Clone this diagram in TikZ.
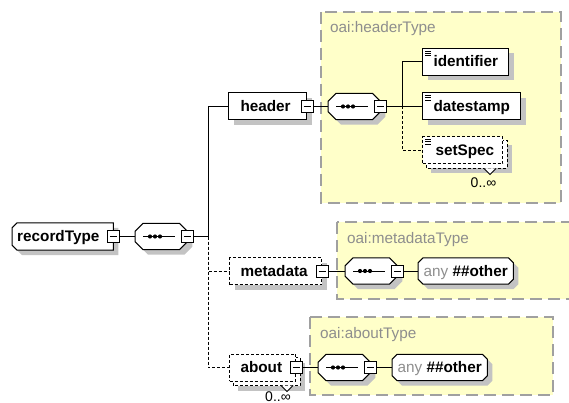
\documentclass[tikz,border=0pt]{standalone}
\usepackage{fontspec}
\setmainfont{Liberation Sans}
\usetikzlibrary{shadows}

\definecolor{panelfill}{HTML}{FFFFC9}
\definecolor{panelline}{HTML}{A0A0A0}
\definecolor{shadowgrey}{HTML}{C3C3C3}
\definecolor{typegrey}{HTML}{8E8E8E}

\pgfdeclarelayer{panel}
\pgfdeclarelayer{body}
\pgfsetlayers{panel,body,main}

\newcommand\elemfont{\bfseries\fontsize{15.3}{18}\selectfont}
\newcommand\typefont{\fontsize{15.3}{18}\selectfont}
\newcommand\occfont{\fontsize{14}{16}\selectfont}

% octagonal outline round a node: node name, chamfer, draw options
\newcommand\octoutline[3]{%
  \draw[#3] ([xshift=#2pt]#1.north west) -- ([xshift=-#2pt]#1.north east)
    -- ([yshift=-#2pt]#1.north east) -- ([yshift=#2pt]#1.south east)
    -- ([xshift=-#2pt]#1.south east) -- ([xshift=#2pt]#1.south west)
    -- ([yshift=#2pt]#1.south west) -- ([yshift=-#2pt]#1.north west) -- cycle;}
% outline with bevelled left corners (complex type box)
\newcommand\leftbevel[3]{%
  \draw[#3] ([xshift=#2pt]#1.north west) -- (#1.north east) -- (#1.south east)
    -- ([xshift=#2pt]#1.south west) -- ([yshift=#2pt]#1.south west)
    -- ([yshift=-#2pt]#1.north west) -- cycle;}
% sequence glyph inside a compositor
\newcommand\seqglyph[1]{%
  \draw[conn] ([xshift=8pt]#1.west) -- ([xshift=40pt]#1.west);
  \foreach \d in {15,20,25}{\fill ([xshift=\d pt]#1.west) circle (2.1pt);}}
% simple-content marker in the top left corner of an element
\newcommand\simpleicon[1]{%
  \draw[line width=0.8pt] ([shift={(3,3)}]#1.north west) -- ++(6,0)
    ([shift={(3,5.3)}]#1.north west) -- ++(6,0)
    ([shift={(3,7.6)}]#1.north west) -- ++(6,0);}

\tikzset{
  x=1pt, y=-1pt,
  conn/.style={draw=black, line width=1pt},
  dashline/.style={dash pattern=on 3pt off 2pt},
  boxshadow/.style={drop shadow={shadow xshift=5pt, shadow yshift=-5pt, fill=shadowgrey, opacity=1, draw=none}},
  elemtext/.style={anchor=west, minimum height=27pt, inner ysep=0pt, text height=12pt, text depth=2pt, align=left, font=\elemfont},
  elem/.style={elemtext, draw=black, line width=1pt, fill=white, boxshadow},
  optelem/.style={elem, dashline},
  optfront/.style={elemtext, draw=black, line width=1pt, fill=white, dashline},
  seqnode/.style={anchor=west, minimum width=52pt, minimum height=26pt, inner sep=0pt},
  anynode/.style={anchor=west, minimum width=95pt, minimum height=26pt, inner sep=0pt, text height=12pt, text depth=2pt, font=\elemfont},
  outline/.style={draw=black, line width=1pt, fill=white, boxshadow},
  minusbox/.style={draw=black, fill=white, line width=0.9pt, minimum size=12pt, inner sep=0pt,
    path picture={\draw[line width=0.9pt] ([xshift=2.5pt]path picture bounding box.west) -- ([xshift=-2.5pt]path picture bounding box.east);}},
  panel/.style={fill=panelfill, draw=panelline, line width=1.3pt, dash pattern=on 12pt off 6pt},
  paneltitle/.style={anchor=base west, inner sep=0pt, text=typegrey, font=\typefont},
  occurs/.style={anchor=base, inner sep=0pt, font=\occfont},
  caret/.style={draw=black, fill=white, line width=0.8pt},
}

\begin{document}
\begin{tikzpicture}
\useasboundingbox (0,0) rectangle (569,403);

% type panels
\begin{pgfonlayer}{panel}
  \path[panel] (321,12) rectangle (561,203);
  \path[panel] (337,222) rectangle (585,299);
  \path[panel] (310,317) rectangle (553,395);
\end{pgfonlayer}
\node[paneltitle] (tHead) at (330,33) {oai:headerType};
\node[paneltitle] (tMeta) at (347,243) {oai:metadataType};
\node[paneltitle] (tAbout) at (320,338) {oai:aboutType};

% root type
\node[elemtext, inner xsep=5pt, text width=91pt] (rec) at (12,236.5) {recordType};
\node[minusbox] (recM) at (rec.east) {};
\node[seqnode] (seqR) at (135,236.5) {};
\node[minusbox] (seqRM) at (seqR.east) {};
\coordinate (trunk) at (208,236.5);

% header branch
\node[elem, inner xsep=12pt, text width=54pt] (hdr) at (228,106.5) {header};
\node[minusbox] (hdrM) at (hdr.east) {};
\node[seqnode] (seqH) at (328,106.5) {};
\node[minusbox] (seqHM) at (seqH.east) {};
\coordinate (hub) at (402,106.5);
\node[elem, inner xsep=11pt, text width=64pt] (ident) at (422,62) {identifier};
\node[elem, inner xsep=11pt, text width=76pt] (dstamp) at (422,106.5) {datestamp};
\node[optfront, inner xsep=13pt, text width=54pt] (setspec) at (422,150.5) {setSpec};

% metadata branch
\node[optelem, inner xsep=11pt, text width=70pt] (meta) at (229,271) {metadata};
\node[minusbox] (metaM) at (meta.east) {};
\node[seqnode] (seqM) at (345,271) {};
\node[minusbox] (seqMM) at (seqM.east) {};
\node[anynode] (anyM) at (418,271) {{\mdseries\color{typegrey}any} \#\#other};

% about branch
\node[optfront, inner xsep=11pt, text width=44pt] (about) at (229,367.5) {about};
\node[minusbox] (aboutM) at (about.east) {};
\node[seqnode] (seqA) at (318,367.5) {};
\node[minusbox] (seqAM) at (seqA.east) {};
\node[anynode] (anyA) at (392,367.5) {{\mdseries\color{typegrey}any} \#\#other};

% shaped outlines and stacked copies of repeating elements
\begin{pgfonlayer}{body}
  \leftbevel{rec}{5}{outline}
  \foreach \s in {seqR,seqH,seqM,seqA}{\octoutline{\s}{8}{outline}}
  \octoutline{anyM}{5}{outline}
  \octoutline{anyA}{5}{outline}
  \draw[outline, dashline] ([shift={(4,4)}]setspec.north west) rectangle ([shift={(4,4)}]setspec.south east);
  \draw[outline, dashline] ([shift={(4,4)}]about.north west) rectangle ([shift={(4,4)}]about.south east);
\end{pgfonlayer}

\foreach \s in {seqR,seqH,seqM,seqA}{\seqglyph{\s}}
\simpleicon{ident}
\simpleicon{dstamp}
\simpleicon{setspec}

% connectors
\draw[conn] (recM.east) -- (seqR.west);
\draw[conn] (seqRM.east) -- (trunk);
\draw[conn] (trunk) |- (hdr.west);
\draw[conn, dashline] (trunk) |- (meta.west);
\draw[conn, dashline] (trunk) |- (about.west);
\draw[conn] (hdrM.east) -- (seqH.west);
\draw[conn] (seqHM.east) -- (hub);
\draw[conn] (hub) |- (ident.west);
\draw[conn] (hub) -- (dstamp.west);
\draw[conn, dashline] (hub) |- (setspec.west);
\draw[conn] (metaM.east) -- (seqM.west);
\draw[conn] (seqMM.east) -- (anyM.west);
\draw[conn] (aboutM.east) -- (seqA.west);
\draw[conn] (seqAM.east) -- (anyA.west);

% occurrence marks
\draw[caret] ([shift={(-19,4)}]setspec.south east) -- ++(6,6) -- ++(6,-6);
\node[occurs] (occS) at (483.5,187) {0..∞};
\draw[caret] ([shift={(-15,4)}]about.south east) -- ++(6,6) -- ++(6,-6);
\node[occurs] (occA) at (278,401) {0..∞};
\end{tikzpicture}
\end{document}
